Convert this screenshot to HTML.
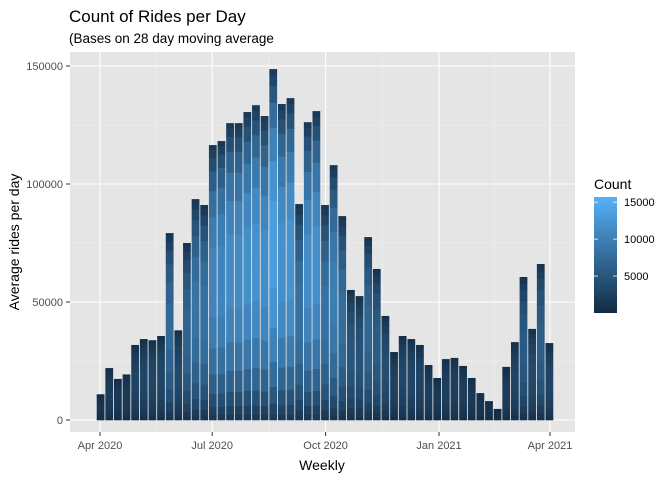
<!DOCTYPE html>
<html><head><meta charset="utf-8"><style>
body{margin:0;background:#fff;}
svg text{font-family:"Liberation Sans",Arial,sans-serif;}
</style></head><body>
<svg id="c" width="672" height="480" xmlns="http://www.w3.org/2000/svg">
<defs><linearGradient id="lg" x1="0" y1="1" x2="0" y2="0"><stop offset="0" stop-color="#132B43"/><stop offset="1" stop-color="#56B1F7"/></linearGradient></defs>
<rect x="0" y="0" width="672" height="480" fill="#fff"/>
<text x="69" y="22" font-size="17" fill="#000">Count of Rides per Day</text>
<text x="69" y="43" font-size="13.5" fill="#000">(Bases on 28 day moving average</text>
<rect x="70" y="52" width="505" height="380" fill="#E5E5E5"/>
<g id="grid"></g>
<g id="bars"></g>
<g id="axes"></g>
<text x="322" y="470" font-size="14" text-anchor="middle" fill="#000">Weekly</text>
<text transform="translate(19,242) rotate(-90)" font-size="14" text-anchor="middle" fill="#000">Average rides per day</text>
<g>
<text x="594" y="189" font-size="14" fill="#000">Count</text>
<rect x="594" y="197" width="23" height="116" fill="url(#lg)"/>
<g id="leg"></g>
</g>
</svg>
<script>
const weekOffsets = [-3];
const weeklyTotals = [10900,22000,17400,19300,31800,34300,33800,35600,79200,38000,75000,93600,91100,116500,118200,125800,125800,130500,133400,128800,148700,133900,136400,91500,126200,130900,91100,108000,86400,55100,52500,77500,64000,44100,28800,35600,34300,31800,23300,17800,25800,26300,22900,17800,11400,8000,4700,22500,33000,60600,38600,66100,32600];
const yTicks = [0,50000,100000,150000];
const yTickLabels = ["0","50000","100000","150000"];
const xTickDays = [0,91,183,275,365];
const xTickLabels = ["Apr 2020","Jul 2020","Oct 2020","Jan 2021","Apr 2021"];
const legendTicks = [5000,10000,15000];

const NS="http://www.w3.org/2000/svg";
function mk(t,a,p){const e=document.createElementNS(NS,t);for(const k in a)e.setAttribute(k,a[k]);p.appendChild(e);return e;}
const x=d=>100+d*450/365;
const y=v=>420-v*354/150000;
const cmin=0,cmax=15700;
const lo=[0x13,0x2B,0x43],hi=[0x56,0xB1,0xF7];
function col(v){let t=Math.max(0,Math.min(1,(v-cmin)/(cmax-cmin)));return "rgb("+lo.map((c,i)=>Math.round(c+(hi[i]-c)*t)).join(",")+")";}
const grid=document.getElementById('grid'),bars=document.getElementById('bars'),axes=document.getElementById('axes'),leg=document.getElementById('leg');
for(let i=0;i<yTicks.length-1;i++){const l=mk('line',{x1:70,x2:575,y1:y((yTicks[i]+yTicks[i+1])/2),y2:y((yTicks[i]+yTicks[i+1])/2),stroke:'#F2F2F2','stroke-width':0.6},grid);}
for(let i=0;i<xTickDays.length-1;i++){const xm=x((xTickDays[i]+xTickDays[i+1])/2);const l=mk('line',{x1:xm,x2:xm,y1:52,y2:432,stroke:'#F2F2F2','stroke-width':0.6},grid);}
yTicks.forEach((v,i)=>{const l=mk('line',{x1:70,x2:575,y1:y(v),y2:y(v),stroke:'#fff','stroke-width':1.1},grid);
const tk=mk('line',{x1:66,x2:70,y1:y(v),y2:y(v),stroke:'#333','stroke-width':1},axes);
const t=mk('text',{x:63,y:y(v)+4,'font-size':11,'text-anchor':'end',fill:'#4D4D4D'},axes);t.textContent=yTickLabels[i];});
xTickDays.forEach((d,i)=>{const l=mk('line',{x1:x(d),x2:x(d),y1:52,y2:432,stroke:'#fff','stroke-width':1.1},grid);
const tk=mk('line',{x1:x(d),x2:x(d),y1:432,y2:436,stroke:'#333','stroke-width':1},axes);
const t=mk('text',{x:x(d),y:449,'font-size':11,'text-anchor':'middle',fill:'#4D4D4D'},axes);t.textContent=xTickLabels[i];});
const n=14;const w=[];let s=0;for(let i=0;i<n;i++){const sn=Math.sin(Math.PI*(i+0.5)/n);const v=0.25+1.6*sn*sn;w.push(v);s+=v;}
for(let i=0;i<n;i++)w[i]*=n/s;
weeklyTotals.forEach((tot,k)=>{const d0=weekOffsets[0]+7*k;const cx=x(d0+3.5);const bw=0.9*7*450/365;
const g=mk('g',{},bars);
let acc=0;for(let i=0;i<n;i++){const sv=tot/n*w[i];const y1=y(acc+sv),y0=y(acc);acc+=sv;
mk('rect',{x:cx-bw/2,y:y1,width:bw,height:Math.max(0,y0-y1)+0.3,fill:col(sv*0.72)},g);}});
legendTicks.forEach(v=>{const yy=313-(v-cmin)/(cmax-cmin)*116;
mk('line',{x1:594,x2:598,y1:yy,y2:yy,stroke:'#fff','stroke-width':0.8},leg);mk('line',{x1:613,x2:617,y1:yy,y2:yy,stroke:'#fff','stroke-width':0.8},leg);
const t=mk('text',{x:624,y:yy+4,'font-size':11,fill:'#000'},leg);t.textContent=v;});
</script>
</body></html>
